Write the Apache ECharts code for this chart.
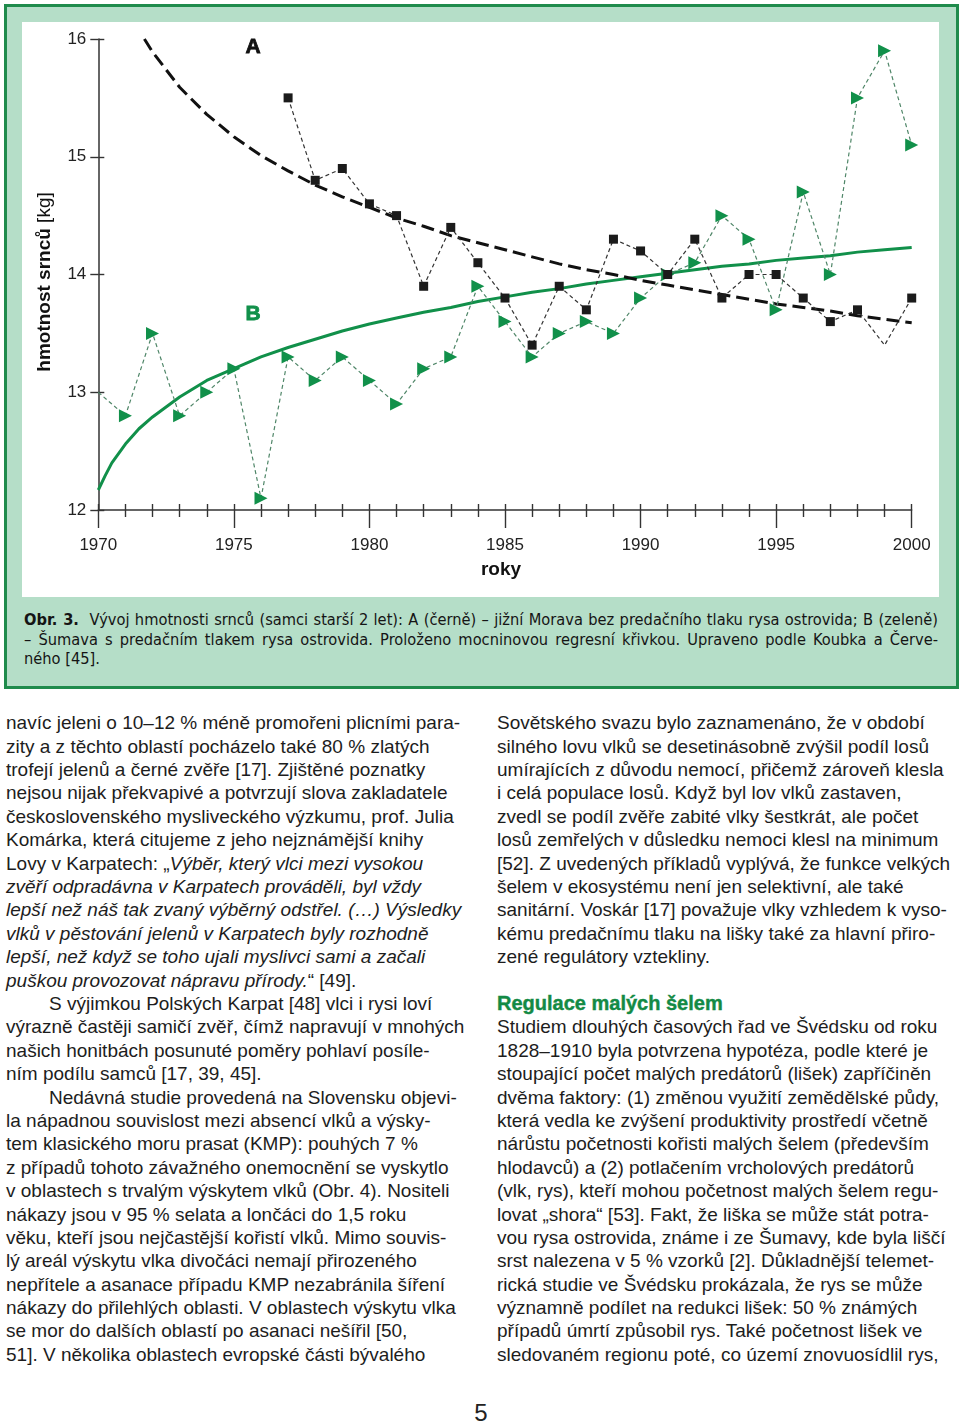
<!DOCTYPE html>
<html lang="cs">
<head>
<meta charset="utf-8">
<script src="https://cdn.jsdelivr.net/npm/echarts@6/dist/echarts.min.js"></script>
<style>
  html, body { margin: 0; padding: 0; width: 960px; height: 1424px; background: #fff; overflow: hidden; }
  body { position: relative; font-family: "Liberation Sans", Arial, sans-serif; color: #1d1d1d; }
  #frame { position: absolute; left: 4px; top: 4px; width: 949px; height: 679px; border: 3px solid #1f8b4c; background: #b5dec8; }
  #panel { position: absolute; left: 22px; top: 22px; width: 917px; height: 575px; background: #fff; }
  #chart { position: absolute; left: 0; top: 0; width: 960px; height: 600px; }
  #caption { position: absolute; left: 24px; top: 610px; width: 914px; font-family: "Liberation Sans Narrow", "Arial Narrow", "DejaVu Sans Condensed", "Liberation Sans", sans-serif; font-size: 14.5px; line-height: 19.5px; color: #151515; }
  #caption .ln { height: 19.5px; white-space: nowrap; }
  #caption .ln span { display: inline-block; white-space: nowrap; transform-origin: 0 0; }
  .col { position: absolute; top: 711.3px; font-size: 19px; line-height: 23.4px; white-space: nowrap; color: #1d1d1d; }
  .col div { height: 23.4px; }
  #left { left: 6px; }
  #right { left: 497px; }
  .ind { padding-left: 43px; }
  i { font-style: italic; }
  .head { color: #138a45; font-weight: bold; font-size: 20px; -webkit-text-stroke: 0.4px #138a45; }
  #pageno { position: absolute; left: 0; width: 962px; text-align: center; top: 1399px; font-size: 24px; color: #222; }
</style>
</head>
<body>
<div id="frame"></div>
<div id="panel"></div>
<div id="chart"></div>

<div id="caption">
  <div class="ln" data-w="914"><span><b>Obr. 3.</b>&nbsp; Vývoj hmotnosti srnců (samci starší 2 let): A (černě) – jižní Morava bez predačního tlaku rysa ostrovida; B (zeleně)</span></div>
  <div class="ln" data-w="914"><span>– Šumava s predačním tlakem rysa ostrovida. Proloženo mocninovou regresní křivkou. Upraveno podle Koubka a Červe-</span></div>
  <div class="ln" data-w="0"><span>ného [45].</span></div>
</div>

<div id="left" class="col">
  <div>navíc jeleni o 10–12 % méně promořeni plicními para-</div>
  <div>zity a z těchto oblastí pocházelo také 80 % zlatých</div>
  <div>trofejí jelenů a černé zvěře [17]. Zjištěné poznatky</div>
  <div>nejsou nijak překvapivé a potvrzují slova zakladatele</div>
  <div>československého mysliveckého výzkumu, prof. Julia</div>
  <div>Komárka, která citujeme z jeho nejznámější knihy</div>
  <div>Lovy v Karpatech: „<i>Výběr, který vlci mezi vysokou</i></div>
  <div><i>zvěří odpradávna v Karpatech prováděli, byl vždy</i></div>
  <div><i>lepší než náš tak zvaný výběrný odstřel. (…) Výsledky</i></div>
  <div><i>vlků v pěstování jelenů v Karpatech byly rozhodně</i></div>
  <div><i>lepší, než když se toho ujali myslivci sami a začali</i></div>
  <div><i>puškou provozovat nápravu přírody.</i>“ [49].</div>
  <div class="ind">S výjimkou Polských Karpat [48] vlci i rysi loví</div>
  <div>výrazně častěji samičí zvěř, čímž napravují v mnohých</div>
  <div>našich honitbách posunuté poměry pohlaví posíle-</div>
  <div>ním podílu samců [17, 39, 45].</div>
  <div class="ind">Nedávná studie provedená na Slovensku objevi-</div>
  <div>la nápadnou souvislost mezi absencí vlků a výsky-</div>
  <div>tem klasického moru prasat (KMP): pouhých 7 %</div>
  <div>z případů tohoto závažného onemocnění se vyskytlo</div>
  <div>v oblastech s trvalým výskytem vlků (Obr. 4). Nositeli</div>
  <div>nákazy jsou v 95 % selata a lončáci do 1,5 roku</div>
  <div>věku, kteří jsou nejčastější kořistí vlků. Mimo souvis-</div>
  <div>lý areál výskytu vlka divočáci nemají přirozeného</div>
  <div>nepřítele a asanace případu KMP nezabránila šíření</div>
  <div>nákazy do přilehlých oblasti. V oblastech výskytu vlka</div>
  <div>se mor do dalších oblastí po asanaci nešířil [50,</div>
  <div>51]. V několika oblastech evropské části bývalého</div>
</div>

<div id="right" class="col">
  <div>Sovětského svazu bylo zaznamenáno, že v období</div>
  <div>silného lovu vlků se desetinásobně zvýšil podíl losů</div>
  <div>umírajících z důvodu nemocí, přičemž zároveň klesla</div>
  <div>i celá populace losů. Když byl lov vlků zastaven,</div>
  <div>zvedl se podíl zvěře zabité vlky šestkrát, ale počet</div>
  <div>losů zemřelých v důsledku nemoci klesl na minimum</div>
  <div>[52]. Z uvedených příkladů vyplývá, že funkce velkých</div>
  <div>šelem v ekosystému není jen selektivní, ale také</div>
  <div>sanitární. Voskár [17] považuje vlky vzhledem k vyso-</div>
  <div>kému predačnímu tlaku na lišky také za hlavní přiro-</div>
  <div>zené regulátory vztekliny.</div>
  <div></div>
  <div class="head">Regulace malých šelem</div>
  <div>Studiem dlouhých časových řad ve Švédsku od roku</div>
  <div>1828–1910 byla potvrzena hypotéza, podle které je</div>
  <div>stoupající počet malých predátorů (lišek) zapříčiněn</div>
  <div>dvěma faktory: (1) změnou využití zemědělské půdy,</div>
  <div>která vedla ke zvýšení produktivity prostředí včetně</div>
  <div>nárůstu početnosti kořisti malých šelem (především</div>
  <div>hlodavců) a (2) potlačením vrcholových predátorů</div>
  <div>(vlk, rys), kteří mohou početnost malých šelem regu-</div>
  <div>lovat „shora“ [53]. Fakt, že liška se může stát potra-</div>
  <div>vou rysa ostrovida, známe i ze Šumavy, kde byla liščí</div>
  <div>srst nalezena v 5 % vzorků [2]. Důkladnější telemet-</div>
  <div>rická studie ve Švédsku prokázala, že rys se může</div>
  <div>významně podílet na redukci lišek: 50 % známých</div>
  <div>případů úmrtí způsobil rys. Také početnost lišek ve</div>
  <div>sledovaném regionu poté, co území znovuosídlil rys,</div>
</div>

<div id="pageno">5</div>

<script>
// ---- data ----
const yearsA  = [1977,1978,1979,1980,1981,1982,1983,1984,1985,1986,1987,1988,1989,1990,1991,1992,1993,1994,1995,1996,1997,1998,1999,2000];
const weightA = [15.5,14.8,14.9,14.6,14.5,13.9,14.4,14.1,13.8,13.4,13.9,13.7,14.3,14.2,14.0,14.3,13.8,14.0,14.0,13.8,13.6,13.7,13.4,13.8];
const noMarkerA = [1999];

const yearsB  = [1970,1971,1972,1973,1974,1975,1976,1977,1978,1979,1980,1981,1982,1983,1984,1985,1986,1987,1988,1989,1990,1991,1992,1993,1994,1995,1996,1997,1998,1999,2000];
const weightB = [13.0,12.8,13.5,12.8,13.0,13.2,12.1,13.3,13.1,13.3,13.1,12.9,13.2,13.3,13.9,13.6,13.3,13.5,13.6,13.5,13.8,14.0,14.1,14.5,14.3,13.7,14.7,14.0,15.5,15.9,15.1];
const noMarkerB = [1970];

// regression curves
const trendAYears = [1971.7,1972,1973,1974,1975,1976,1977,1978,1979,1980,1981,1982,1983,1984,1985,1986,1987,1988,1989,1990,1991,1992,1993,1994,1995,1996,1997,1998,1999,2000];
const trendA      = [16.0,15.89,15.59,15.36,15.17,15.01,14.88,14.76,14.66,14.57,14.48,14.41,14.33,14.27,14.21,14.15,14.09,14.04,14.00,13.95,13.91,13.87,13.83,13.79,13.75,13.72,13.69,13.65,13.62,13.59];
const trendBYears = [1970,1970.25,1970.5,1971,1971.5,1972,1973,1974,1975,1976,1977,1978,1979,1980,1981,1982,1983,1984,1985,1986,1987,1988,1989,1990,1991,1992,1993,1994,1995,1996,1997,1998,1999,2000];
const trendB      = [12.17,12.29,12.40,12.56,12.69,12.79,12.96,13.10,13.20,13.30,13.38,13.45,13.52,13.58,13.63,13.68,13.72,13.77,13.81,13.85,13.88,13.92,13.95,13.98,14.01,14.04,14.07,14.09,14.12,14.14,14.16,14.19,14.21,14.23];

const xMin = 1970, xMax = 2000, xStep = 5;
const yMin = 12, yMax = 16, yStep = 1;

const GREEN = '#11904a';
const AXIS = '#333';
const FONT = '"Liberation Sans", Arial, sans-serif';

const zip = (xs, ys) => xs.map((x, i) => [x, ys[i]]);
const pts = (xs, ys, none) => xs.map((x, i) => none.includes(x) ? { value: [x, ys[i]], symbol: 'none' } : [x, ys[i]]);

const chart = echarts.init(document.getElementById('chart'), null, { renderer: 'canvas' });
const tickLine = { color: AXIS, width: 1.4 };

chart.setOption({
  animation: false,
  backgroundColor: 'transparent',
  grid: { left: 98.3, top: 39, right: 48.3, bottom: 90, containLabel: false },
  xAxis: [
    {
      type: 'value', min: xMin, max: xMax, interval: xStep, position: 'bottom',
      axisLine: { show: true, lineStyle: { color: AXIS, width: 1.5 } },
      axisTick: { show: true, length: 18, lineStyle: tickLine },
      minorTick: { show: true, splitNumber: 5, length: 7, lineStyle: tickLine },
      splitLine: { show: false }, minorSplitLine: { show: false },
      axisLabel: { fontSize: 17, margin: 27, color: '#222', fontFamily: FONT, formatter: v => String(v) },
      name: 'roky', nameLocation: 'middle', nameGap: 50,
      nameTextStyle: { fontSize: 19, fontWeight: 'bold', color: '#111', fontFamily: FONT, padding: [0, 8, 0, 0] }
    },
    {
      type: 'value', min: xMin, max: xMax, interval: xStep, position: 'bottom',
      axisLine: { show: false },
      axisTick: { show: true, inside: true, length: 6, lineStyle: tickLine },
      minorTick: { show: true, splitNumber: 5, length: 6, lineStyle: tickLine },
      splitLine: { show: false }, axisLabel: { show: false }
    }
  ],
  yAxis: [
    {
      type: 'value', min: yMin, max: yMax, interval: yStep, position: 'left',
      axisLine: { show: true, lineStyle: { color: AXIS, width: 1.5 } },
      axisTick: { show: true, length: 8, lineStyle: tickLine },
      splitLine: { show: false },
      axisLabel: { fontSize: 17, margin: 12, color: '#222', fontFamily: FONT }
    },
    {
      type: 'value', min: yMin, max: yMax, interval: yStep, position: 'left',
      axisLine: { show: false },
      axisTick: { show: true, inside: true, length: 6, lineStyle: tickLine },
      splitLine: { show: false }, axisLabel: { show: false }
    }
  ],
  series: [
    {
      name: 'B trend', type: 'line', smooth: false, symbol: 'none',
      data: zip(trendBYears, trendB), lineStyle: { color: GREEN, width: 3, join: 'round' }, z: 2
    },
    {
      name: 'A trend', type: 'line', smooth: false, symbol: 'none',
      data: zip(trendAYears, trendA), lineStyle: { color: '#111', width: 3, type: [13, 6] }, z: 3
    },
    {
      name: 'B', type: 'line', data: pts(yearsB, weightB, noMarkerB),
      symbol: 'triangle', symbolRotate: -90, symbolSize: 13,
      itemStyle: { color: GREEN }, lineStyle: { color: '#4f8668', width: 1.2, type: [4, 3] }, z: 4
    },
    {
      name: 'A', type: 'line', data: pts(yearsA, weightA, noMarkerA),
      symbol: 'rect', symbolSize: 9,
      itemStyle: { color: '#1b1b1b' }, lineStyle: { color: '#333', width: 1.2, type: [4, 3] }, z: 5
    }
  ],
  graphic: [
    {
      type: 'text', x: 45, y: 282, rotation: Math.PI / 2,
      style: {
        text: '{b|hmotnost srnců} [kg]', x: 0, y: 0, align: 'center', verticalAlign: 'middle',
        font: '19px "Liberation Sans", Arial, sans-serif', fill: '#111',
        rich: { b: { fontWeight: 'bold', fontSize: 19, fontFamily: FONT, fill: '#111' } }
      }
    },
    { type: 'text', x: 253, y: 47, style: { text: 'A', align: 'center', verticalAlign: 'middle', font: 'bold 21px "Liberation Sans", Arial, sans-serif', fill: '#111', stroke: '#111', lineWidth: 0.8 } },
    { type: 'text', x: 253, y: 314, style: { text: 'B', align: 'center', verticalAlign: 'middle', font: 'bold 21px "Liberation Sans", Arial, sans-serif', fill: GREEN, stroke: GREEN, lineWidth: 0.8 } }
  ]
});

// fit caption: scale font so line 1 nearly fills the width, then justify with word spacing
(function fitCaption() {
  const cap = document.getElementById('caption');
  const lines = Array.from(cap.querySelectorAll('.ln'));
  const first = lines[0].firstElementChild;
  const base = parseFloat(getComputedStyle(cap).fontSize);
  const w0 = first.getBoundingClientRect().width;
  let fs = base * (914 * 0.985) / w0;
  fs = Math.min(fs, 17);
  cap.style.fontSize = fs + 'px';
  lines.forEach(ln => {
    const target = +ln.dataset.w;
    const span = ln.firstElementChild;
    span.style.wordSpacing = '0px';
    span.style.transform = '';
    if (!target) return;
    const w = span.getBoundingClientRect().width;
    if (w > target) {
      span.style.transform = 'scaleX(' + (target / w) + ')';
    } else {
      const n = (span.textContent.match(/[ \u00a0]/g) || []).length;
      if (n) span.style.wordSpacing = ((target - w) / n) + 'px';
    }
  });
})();
</script>
</body>
</html>
